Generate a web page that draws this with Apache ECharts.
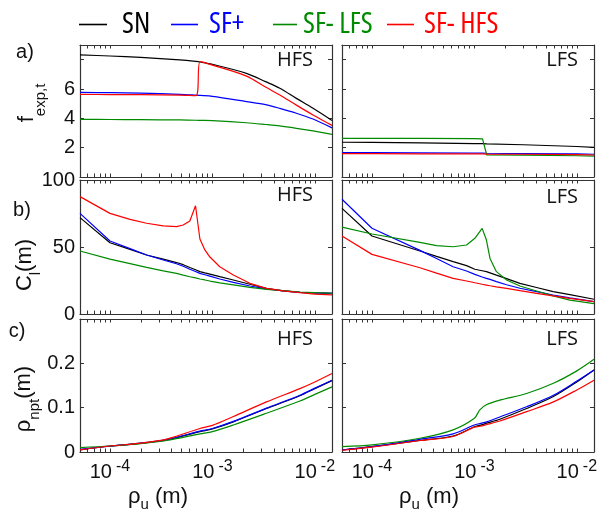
<!DOCTYPE html>
<html>
<head>
<meta charset="utf-8">
<script src="https://cdn.jsdelivr.net/npm/echarts@6/dist/echarts.min.js"></script>
<style>
  html, body { margin: 0; padding: 0; background: #fff; }
  #chart { width: 609px; height: 513px; }
</style>
</head>
<body>
<div id="chart"></div>
<script>
// series names / colours
const seriesNames = ['SN', 'SF+', 'SF- LFS', 'SF- HFS'];
const seriesColors = ['#000000', '#0000ff', '#008a00', '#ff0000'];

// x range (rho_u, m)
const xMin = 5.1e-5, xMax = 0.0147;
const xLabelValues = [1e-4, 1e-3, 1e-2];

// a) f_exp,t  HFS
const xA_HFS = [5.1e-5, 1e-4, 2e-4, 4.8e-4, 6.9e-4, 7.6e-4, 1e-3, 2.15e-3, 3.3e-3, 4.55e-3, 6.6e-3, 9.6e-3, 1.47e-2];
const aHFS_SN  = [8.33, 8.25, 8.15, 7.98, 7.88, 7.84, 7.68, 7.07, 6.5, 6.05, 5.36, 4.68, 3.85];
const aHFS_SFp = [5.77, 5.75, 5.72, 5.64, 5.58, 5.56, 5.5, 5.14, 4.93, 4.68, 4.35, 3.95, 3.35];
const aHFS_LFS = [3.93, 3.92, 3.91, 3.89, 3.87, 3.86, 3.84, 3.7, 3.58, 3.48, 3.32, 3.14, 2.91];
const aHFS_HFS = [5.63, 5.62, 5.61, 5.58, 5.55, 7.86, 7.63, 6.88, 6.13, 5.59, 4.9, 4.23, 3.52];

// a) f_exp,t  LFS
const xA_LFS = [5.1e-5, 1e-4, 3e-4, 1e-3, 1.2e-3, 1.32e-3, 3e-3, 1e-2, 1.47e-2];
const aLFS_SN  = [2.37, 2.36, 2.33, 2.28, 2.27, 2.26, 2.2, 2.08, 2.02];
const aLFS_SFp = [1.66, 1.66, 1.65, 1.63, 1.63, 1.62, 1.6, 1.57, 1.55];
const aLFS_LFS = [2.64, 2.64, 2.63, 2.61, 2.6, 1.5, 1.49, 1.45, 1.43];
const aLFS_HFS = [1.59, 1.59, 1.58, 1.57, 1.57, 1.56, 1.55, 1.52, 1.5];

// b) C_l (m)  HFS
const xB_HFS = [5.1e-5, 1e-4, 1.57e-4, 2.28e-4, 3.31e-4, 4.46e-4, 5.19e-4, 6.02e-4, 6.84e-4, 7.55e-4, 8.44e-4, 9.46e-4, 1.18e-3, 1.6e-3, 2.32e-3, 3.37e-3, 4.9e-3, 7.14e-3, 1e-2, 1.47e-2];
const bHFS_SN  = [71.9, 53.2, 48.2, 44.0, 40.9, 38.4, 36.8, 34.7, 33.0, 31.6, 30.7, 29.8, 27.9, 25.4, 22.2, 19.1, 17.2, 16.2, 15.7, 15.5];
const bHFS_SFp = [75.1, 54.5, 48.8, 44.0, 40.3, 37.5, 35.6, 33.4, 31.7, 30.3, 29.3, 28.3, 26.1, 23.6, 20.9, 18.7, 17.3, 16.2, 15.7, 15.5];
const bHFS_LFS = [47.0, 41.0, 37.6, 34.8, 32.2, 30.3, 29.0, 27.8, 26.9, 26.1, 25.4, 24.6, 23.2, 21.7, 19.9, 18.4, 17.4, 16.4, 15.9, 15.5];
const bHFS_HFS = [87.6, 75.1, 70.6, 67.7, 65.7, 65.2, 66.4, 69.4, 80.8, 56.0, 47.8, 42.5, 35.3, 29.1, 22.9, 19.1, 17.2, 15.9, 14.9, 14.2];

// b) C_l (m)  LFS
const xB_LFS = [5.1e-5, 1e-4, 2.94e-4, 4.27e-4, 6.2e-4, 8.38e-4, 1.01e-3, 1.19e-3, 1.31e-3, 1.42e-3, 1.64e-3, 2.06e-3, 2.78e-3, 4.04e-3, 5.87e-3, 8.54e-3, 1.47e-2];
const bLFS_SN  = [78.8, 58.2, 47.0, 43.0, 39.1, 36.1, 33.4, 32.3, 31.6, 30.7, 29.0, 26.4, 22.9, 19.8, 16.7, 14.4, 11.0];
const bLFS_SFp = [85.6, 64.0, 47.5, 41.4, 35.3, 32.1, 29.6, 27.6, 26.6, 25.8, 24.2, 21.8, 19.2, 16.7, 14.2, 12.0, 9.3];
const bLFS_LFS = [64.8, 59.7, 53.5, 51.0, 50.2, 51.5, 56.5, 63.9, 55.2, 41.5, 31.6, 25.4, 20.9, 17.2, 13.5, 10.4, 7.8];
const bLFS_HFS = [58.2, 44.5, 34.5, 30.5, 26.6, 24.6, 23.3, 22.2, 21.6, 21.1, 20.3, 19.1, 17.4, 15.4, 13.5, 11.7, 9.2];

// c) rho_npt (m)  HFS
const xC_HFS = [5.1e-5, 1e-4, 2e-4, 3.57e-4, 7.55e-4, 1e-3, 1.6e-3, 3.37e-3, 7.14e-3, 1e-2, 1.47e-2];
const cHFS_SN  = [0.005, 0.013, 0.0195, 0.027, 0.046, 0.052, 0.068, 0.098, 0.127, 0.143, 0.161];
const cHFS_SFp = [0.006, 0.0135, 0.02, 0.028, 0.047, 0.053, 0.069, 0.099, 0.128, 0.144, 0.162];
const cHFS_LFS = [0.01, 0.0135, 0.019, 0.026, 0.041, 0.046, 0.061, 0.0875, 0.115, 0.13, 0.147];
const cHFS_HFS = [0.005, 0.0135, 0.02, 0.029, 0.053, 0.06, 0.08, 0.113, 0.143, 0.158, 0.177];

// c) rho_npt (m)  LFS
const xC_LFS = [5.1e-5, 1e-4, 2.94e-4, 6.2e-4, 1e-3, 1.13e-3, 1.32e-3, 1.77e-3, 3.23e-3, 5.9e-3, 1e-2, 1.47e-2];
const cLFS_SN  = [0.0045, 0.012, 0.026, 0.036, 0.057, 0.06, 0.065, 0.074, 0.098, 0.125, 0.158, 0.185];
const cLFS_SFp = [0.0045, 0.012, 0.0286, 0.041, 0.061, 0.064, 0.068, 0.079, 0.102, 0.128, 0.16, 0.185];
const cLFS_LFS = [0.012, 0.016, 0.031, 0.05, 0.076, 0.095, 0.107, 0.117, 0.132, 0.155, 0.183, 0.209];
const cLFS_HFS = [0.004, 0.011, 0.026, 0.035, 0.056, 0.058, 0.062, 0.07, 0.091, 0.113, 0.14, 0.162];

const panels = [
  { x: xA_HFS, ys: [aHFS_SN, aHFS_SFp, aHFS_LFS, aHFS_HFS], smooth: 0.3 },
  { x: xA_LFS, ys: [aLFS_SN, aLFS_SFp, aLFS_LFS, aLFS_HFS], smooth: false },
  { x: xB_HFS, ys: [bHFS_SN, bHFS_SFp, bHFS_LFS, bHFS_HFS], smooth: false },
  { x: xB_LFS, ys: [bLFS_SN, bLFS_SFp, bLFS_LFS, bLFS_HFS], smooth: false },
  { x: xC_HFS, ys: [cHFS_SN, cHFS_SFp, cHFS_LFS, cHFS_HFS], smooth: 0.3 },
  { x: xC_LFS, ys: [cLFS_SN, cLFS_SFp, cLFS_LFS, cLFS_HFS], smooth: 0.3 }
];

// y ranges per row
const yRows = [
  { min: 0, max: 9, interval: 2, fmt: v => (v === 2 || v === 4 || v === 6) ? String(v) : '' },
  { min: 0, max: 100, interval: 50, fmt: v => String(v) },
  { min: 0, max: 0.3, interval: 0.1, fmt: v => v < 0.25 ? String(+v.toFixed(1)) : '' }
];

const COND = "'Open Sans'";
const SANS = "'Liberation Sans', Arial, sans-serif";
const frame = { color: '#333', width: 1.2 };

// minor log ticks 2..9 x 10^k
const logTicks = [];
for (let e = -5; e <= -2; e++) {
  for (let m = 1; m <= 9; m++) {
    const v = +(m * Math.pow(10, e)).toPrecision(3);
    if (v >= xMin && v <= xMax) logTicks.push(v);
  }
}

const grids = [];
const xAxes = [];
const yAxes = [];
const series = [];
const lefts = [80, 342];
const rows = [{ top: 45, height: 132 }, { top: 180, height: 134 }, { top: 319, height: 133 }];

panels.forEach((p, g) => {
  const r = Math.floor(g / 2), c = g % 2;
  grids.push({ left: lefts[c], top: rows[r].top, width: 252, height: rows[r].height });
  const showX = r === 2;
  ['bottom', 'top'].forEach(pos => {
    xAxes.push({
      type: 'log', logBase: 10, gridIndex: g, position: pos, min: xMin, max: xMax,
      axisLine: { show: true, onZero: false, lineStyle: frame },
      axisTick: { show: true, inside: true, length: 3.5, customValues: logTicks, lineStyle: { color: '#333', width: 1 } },
      splitLine: { show: false },
      axisLabel: {
        show: showX && pos === 'bottom',
        customValues: xLabelValues,
        margin: 7,
        formatter: v => '{b|10}{s|' + Math.round(Math.log10(v)) + '}',
        rich: {
          b: { fontSize: 20, fontFamily: SANS, color: '#111', lineHeight: 26, verticalAlign: 'middle' },
          s: { fontSize: 16, fontFamily: SANS, color: '#111', lineHeight: 18, verticalAlign: 'top', padding: [0, 0, 0, 4] }
        }
      }
    });
  });
  const yr = yRows[r];
  ['left', 'right'].forEach(pos => {
    yAxes.push({
      type: 'value', gridIndex: g, position: pos, min: yr.min, max: yr.max, interval: yr.interval,
      axisLine: { show: true, onZero: false, lineStyle: frame },
      axisTick: { show: true, inside: true, length: 4, lineStyle: { color: '#333', width: 1 } },
      splitLine: { show: false },
      axisLabel: {
        show: c === 0 && pos === 'left', margin: 5, formatter: yr.fmt,
        fontSize: 20, fontFamily: SANS, color: '#111'
      }
    });
  });
  p.ys.forEach((ys, k) => {
    series.push({
      type: 'line', name: seriesNames[k], xAxisIndex: 2 * g, yAxisIndex: 2 * g,
      data: p.x.map((xv, i) => [xv, ys[i]]),
      symbol: 'none', smooth: p.smooth,
      silent: true, animation: false,
      lineStyle: { color: seriesColors[k], width: 1.2 },
      itemStyle: { color: seriesColors[k] }
    });
  });
});

// legend: one component per entry so each sits where the reference has it
const legendLefts = [74, 166, 268, 382];
const legendLines = [28, 27, 24, 27];
const legendGaps = [10, 6, 1, 5];
const legends = seriesNames.map((n, k) => ({
  data: [n], left: legendLefts[k], top: 5, orient: 'horizontal',
  icon: 'rect', itemWidth: legendLines[k], itemHeight: 1.6, selectedMode: false,
  itemStyle: { color: seriesColors[k] },
  textStyle: { color: seriesColors[k], fontSize: 29, fontStyle: 'condensed', fontFamily: COND, padding: [0, 0, 0, legendGaps[k]] }
}));

function txt(x, y, text, font, align) {
  return { type: 'text', x: x, y: y, silent: true,
    style: { text: text, fill: '#111', font: font, align: align || 'center', verticalAlign: 'middle',
      textAlign: align || 'center', textVerticalAlign: 'middle' } };
}
function richTxt(x, y, text, rot, mainLH, subLH) {
  return { type: 'text', x: x, y: y, rotation: rot, silent: true,
    style: { text: text, fill: '#111', align: 'center', verticalAlign: 'middle',
      textAlign: 'center', textVerticalAlign: 'middle',
      rich: {
        m: { fontSize: 22, fontFamily: SANS, fill: '#111', lineHeight: mainLH, verticalAlign: 'middle' },
        s: { fontSize: 15, fontFamily: SANS, fill: '#111', lineHeight: subLH, verticalAlign: 'bottom' }
      } } };
}

const panelFont = '20px ' + SANS;
const tagFont = '20px ' + COND;
const graphic = [
  txt(25, 52, 'a)', panelFont), txt(22, 210, 'b)', panelFont), txt(17, 331, 'c)', panelFont),
  txt(313, 60, 'HFS', tagFont, 'right'), txt(578, 60, 'LFS', tagFont, 'right'),
  txt(313, 195, 'HFS', tagFont, 'right'), txt(578, 197, 'LFS', tagFont, 'right'),
  txt(313, 339, 'HFS', tagFont, 'right'), txt(578, 339, 'LFS', tagFont, 'right'),
  richTxt(27, 103, '{m|f}{s|exp,t}', Math.PI / 2, 42, 16),
  richTxt(25, 265, '{m|C}{s|l}{m|(m)}', Math.PI / 2, 36, 16),
  richTxt(24, 399, '{m|ρ}{s|npt}{m|(m)}', Math.PI / 2, 36, 16),
  richTxt(158, 497, '{m|ρ}{s|u}{m| (m)}', 0, 30, 14),
  richTxt(429, 497, '{m|ρ}{s|u}{m| (m)}', 0, 30, 14)
];

const chart = echarts.init(document.getElementById('chart'), null, { renderer: 'canvas' });
chart.setOption({
  animation: false,
  backgroundColor: '#fff',
  legend: legends,
  grid: grids,
  xAxis: xAxes,
  yAxis: yAxes,
  series: series,
  graphic: graphic
});
</script>
</body>
</html>
